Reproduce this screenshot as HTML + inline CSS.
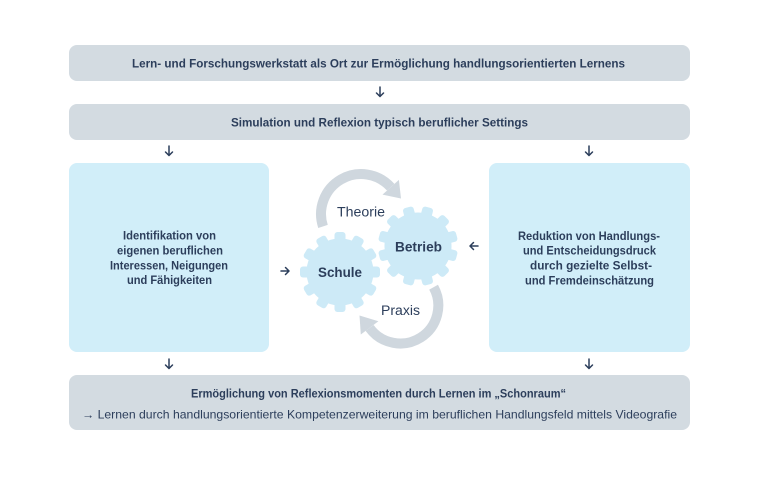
<!DOCTYPE html>
<html><head><meta charset="utf-8"><style>
html,body{margin:0;padding:0;background:#fff;}
svg{display:block;}
text{font-family:"Liberation Sans",sans-serif;fill:#2c3e5b;}
.b{font-weight:bold;font-size:12px;}
.r{font-size:12px;}
</style></head><body>
<svg width="761" height="478" viewBox="0 0 761 478" xmlns="http://www.w3.org/2000/svg">
<defs>
<g id="dn"><path d="M0 -5 V4.5 M-3.5 1 L0 4.5 L3.5 1" fill="none" stroke="#2c3e5b" stroke-width="1.5" stroke-linecap="round" stroke-linejoin="round"/></g>
<g id="teeth">
<rect x="-5.5" y="-40" width="11" height="12" rx="3"/>
<rect x="-5.5" y="-40" width="11" height="12" rx="3" transform="rotate(30)"/>
<rect x="-5.5" y="-40" width="11" height="12" rx="3" transform="rotate(60)"/>
<rect x="-5.5" y="-40" width="11" height="12" rx="3" transform="rotate(90)"/>
<rect x="-5.5" y="-40" width="11" height="12" rx="3" transform="rotate(120)"/>
<rect x="-5.5" y="-40" width="11" height="12" rx="3" transform="rotate(150)"/>
<rect x="-5.5" y="-40" width="11" height="12" rx="3" transform="rotate(180)"/>
<rect x="-5.5" y="-40" width="11" height="12" rx="3" transform="rotate(210)"/>
<rect x="-5.5" y="-40" width="11" height="12" rx="3" transform="rotate(240)"/>
<rect x="-5.5" y="-40" width="11" height="12" rx="3" transform="rotate(270)"/>
<rect x="-5.5" y="-40" width="11" height="12" rx="3" transform="rotate(300)"/>
<rect x="-5.5" y="-40" width="11" height="12" rx="3" transform="rotate(330)"/>
<circle r="33.5"/>
</g>
</defs>

<!-- boxes -->
<rect x="69" y="45" width="621" height="36" rx="8" fill="#d3dbe1"/>
<rect x="69" y="104" width="621" height="36" rx="8" fill="#d3dbe1"/>
<rect x="69" y="163" width="200" height="189" rx="8" fill="#d1eef9"/>
<rect x="489" y="163" width="201" height="189" rx="8" fill="#d1eef9"/>
<rect x="69" y="375" width="621" height="55" rx="8" fill="#d3dbe1"/>

<!-- texts -->
<text class="b" x="132" y="67.5" textLength="493" lengthAdjust="spacingAndGlyphs">Lern- und Forschungswerkstatt als Ort zur Ermöglichung handlungsorientierten Lernens</text>
<text class="b" x="231" y="126.5" textLength="297" lengthAdjust="spacingAndGlyphs">Simulation und Reflexion typisch beruflicher Settings</text>

<text class="b" x="123" y="239.5" textLength="93" lengthAdjust="spacingAndGlyphs">Identifikation von</text>
<text class="b" x="117" y="254.5" textLength="106" lengthAdjust="spacingAndGlyphs">eigenen beruflichen</text>
<text class="b" x="110" y="269.5" textLength="118" lengthAdjust="spacingAndGlyphs">Interessen, Neigungen</text>
<text class="b" x="127" y="284" textLength="85" lengthAdjust="spacingAndGlyphs">und Fähigkeiten</text>

<text class="b" x="518" y="240" textLength="142" lengthAdjust="spacingAndGlyphs">Reduktion von Handlungs-</text>
<text class="b" x="523" y="254.5" textLength="133" lengthAdjust="spacingAndGlyphs">und Entscheidungsdruck</text>
<text class="b" x="530" y="269.5" textLength="122" lengthAdjust="spacingAndGlyphs">durch gezielte Selbst-</text>
<text class="b" x="525" y="284.5" textLength="129" lengthAdjust="spacingAndGlyphs">und Fremdeinschätzung</text>

<text class="b" x="191" y="397.5" textLength="375" lengthAdjust="spacingAndGlyphs">Ermöglichung von Reflexionsmomenten durch Lernen im „Schonraum“</text>
<text class="r" x="82" y="418.5" textLength="595" lengthAdjust="spacingAndGlyphs">→ Lernen durch handlungsorientierte Kompetenzerweiterung im beruflichen Handlungsfeld mittels Videografie</text>

<!-- down arrows -->
<use href="#dn" x="380" y="92"/>
<use href="#dn" x="169" y="151"/>
<use href="#dn" x="589" y="151"/>
<use href="#dn" x="169" y="364"/>
<use href="#dn" x="589" y="364"/>

<!-- side arrows -->
<path d="M281 271 H289 M285.5 267.5 L289 271 L285.5 274.5" fill="none" stroke="#2c3e5b" stroke-width="1.5" stroke-linecap="round" stroke-linejoin="round"/>
<path d="M478 246 H470 M473.5 242.5 L470 246 L473.5 249.5" fill="none" stroke="#2c3e5b" stroke-width="1.5" stroke-linecap="round" stroke-linejoin="round"/>

<!-- cycle arcs -->
<path d="M323 226.4 A40 40 0 0 1 390.7 187.2" fill="none" stroke="#cfd7de" stroke-width="10"/>
<polygon points="382.5,194.6 398.9,179.9 401,198.5" fill="#cfd7de"/>
<path d="M433.6 287.2 A38 38 0 0 1 369.6 327.9" fill="none" stroke="#cfd7de" stroke-width="10"/>
<polygon points="378.4,321.3 360.8,334.5 359.5,315.5" fill="#cfd7de"/>

<!-- gears -->
<g fill="#cdeaf7">
<use href="#teeth" transform="translate(340 272)"/>
<use href="#teeth" transform="translate(418 246) rotate(15)"/>
</g>

<text class="r" x="337" y="216.5" textLength="48" lengthAdjust="spacingAndGlyphs" style="font-size:13.5px">Theorie</text>
<text class="b" x="318" y="277" textLength="44" lengthAdjust="spacingAndGlyphs" style="font-size:13.5px">Schule</text>
<text class="b" x="395" y="251.5" textLength="47" lengthAdjust="spacingAndGlyphs" style="font-size:13.5px">Betrieb</text>
<text class="r" x="381" y="315" textLength="39" lengthAdjust="spacingAndGlyphs" style="font-size:13.5px">Praxis</text>
</svg>
</body></html>
